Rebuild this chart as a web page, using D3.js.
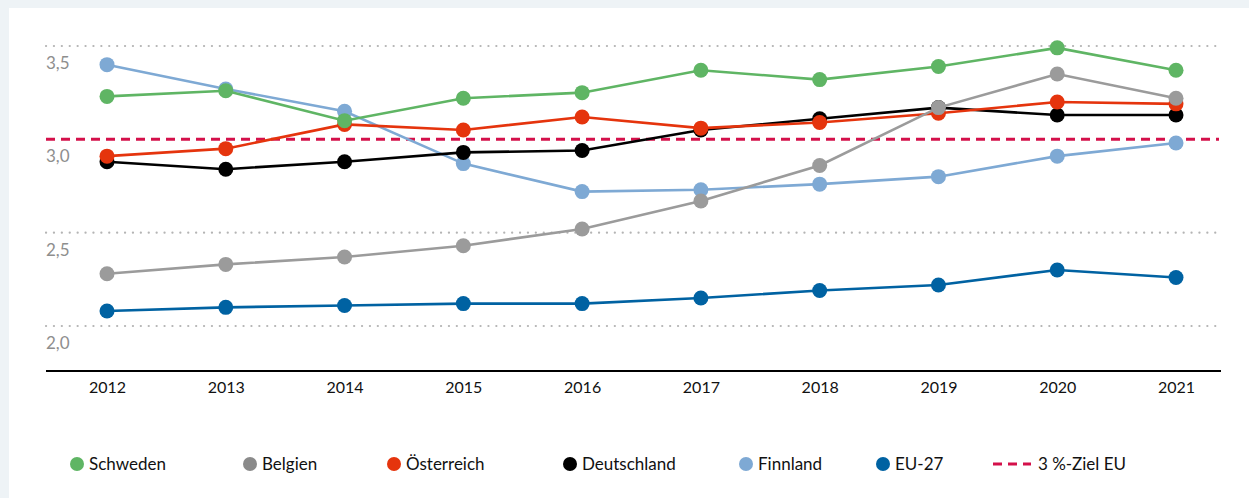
<!DOCTYPE html>
<html>
<head>
<meta charset="utf-8">
<script src="https://cdn.jsdelivr.net/npm/d3@7"></script>
<style>
  body { margin: 0; background: #eef3f6; }
  svg { display: block; }
  text { font-family: Lato, "Open Sans", sans-serif; }
</style>
</head>
<body>
<div id="chart"></div>
<script>
// years on the x axis
var years = [2012, 2013, 2014, 2015, 2016, 2017, 2018, 2019, 2020, 2021];

// R&D quota in % of GDP
var schweden    = [3.23, 3.26, 3.10, 3.22, 3.25, 3.37, 3.32, 3.39, 3.49, 3.37];
var belgien     = [2.28, 2.33, 2.37, 2.43, 2.52, 2.67, 2.86, 3.17, 3.35, 3.22];
var oesterreich = [2.91, 2.95, 3.08, 3.05, 3.12, 3.06, 3.09, 3.14, 3.20, 3.19];
var deutschland = [2.88, 2.84, 2.88, 2.93, 2.94, 3.05, 3.11, 3.17, 3.13, 3.13];
var finnland    = [3.40, 3.27, 3.15, 2.87, 2.72, 2.73, 2.76, 2.80, 2.91, 2.98];
var eu27        = [2.08, 2.10, 2.11, 2.12, 2.12, 2.15, 2.19, 2.22, 2.30, 2.26];

var zielEU = 3.0;
var yTicks = [2.0, 2.5, 3.0, 3.5];

var series = [
  {name: "Schweden",    values: schweden,    color: "#5fb564"},
  {name: "Belgien",     values: belgien,     color: "#9b9b9b", legendColor: "#8a8a8a"},
  {name: "Österreich",  values: oesterreich, color: "#e5340d"},
  {name: "Deutschland", values: deutschland, color: "#000000"},
  {name: "Finnland",    values: finnland,    color: "#7ea9d4"},
  {name: "EU-27",       values: eu27,        color: "#0062a2"}
];

var W = 1249, H = 498;

var svg = d3.select("#chart").append("svg")
  .attr("width", W)
  .attr("height", H);

// white panel
svg.append("rect")
  .attr("x", 9).attr("y", 8)
  .attr("width", W - 9).attr("height", H - 8)
  .attr("fill", "#ffffff");

var x = d3.scalePoint()
  .domain(years)
  .range([107, 1176]);

var y = d3.scaleLinear()
  .domain([2.0, 3.5])
  .range([326, 46]);

var left = 46, right = 1221;

// dotted grid lines (3.0 is covered by the goal line)
svg.append("g").selectAll("line")
  .data(yTicks.filter(function(d){ return d !== zielEU; }))
  .enter().append("line")
  .attr("x1", left).attr("x2", right)
  .attr("y1", function(d){ return y(d); })
  .attr("y2", function(d){ return y(d); })
  .attr("stroke", "#b4b4b4")
  .attr("stroke-width", 2.2)
  .attr("stroke-linecap", "round")
  .attr("stroke-dasharray", "0.1,7.8");

// y labels sit under their grid line
svg.append("g").selectAll("text")
  .data(yTicks)
  .enter().append("text")
  .attr("x", 46)
  .attr("y", function(d){ return y(d) + 23; })
  .attr("fill", "#8e8e8e")
  .style("font-size", "17px")
  .text(function(d){ return d3.format(".1f")(d).replace(".", ","); });

// 3 % goal line
svg.append("line")
  .attr("x1", left).attr("x2", 1219)
  .attr("y1", y(zielEU)).attr("y2", y(zielEU))
  .attr("stroke", "#d4104a")
  .attr("stroke-width", 3)
  .attr("stroke-dasharray", "9,6");

// x axis
var xAxis = svg.append("g")
  .attr("transform", "translate(0,371)")
  .call(d3.axisBottom(x).tickSize(0).tickPadding(11));
xAxis.select(".domain").remove();
xAxis.append("line")
  .attr("x1", left).attr("x2", right)
  .attr("stroke", "#000").attr("stroke-width", 2);
xAxis.selectAll(".tick text")
  .attr("fill", "#111")
  .style("font-size", "16px")
  .style("font-family", "Lato, 'Open Sans', sans-serif");

var line = d3.line()
  .x(function(d, i){ return x(years[i]); })
  .y(function(d){ return y(d); });

// draw in reverse legend order so Schweden ends on top
var wrap = svg.append("g").selectAll("g")
  .data(series.slice().reverse())
  .enter().append("g");

wrap.append("path")
  .attr("d", function(d){ return line(d.values); })
  .attr("fill", "none")
  .attr("stroke", function(d){ return d.color; })
  .attr("stroke-width", 2.6);

wrap.selectAll("circle")
  .data(function(d){ return d.values.map(function(v, i){ return {v: v, i: i, c: d.color}; }); })
  .enter().append("circle")
  .attr("cx", function(d){ return x(years[d.i]); })
  .attr("cy", function(d){ return y(d.v); })
  .attr("r", 7.5)
  .attr("fill", function(d){ return d.c; });

// legend
var legendX = [77, 250, 394, 570, 746, 883];
var legend = svg.append("g").selectAll("g")
  .data(series)
  .enter().append("g")
  .attr("transform", function(d, i){ return "translate(" + legendX[i] + ",464)"; });

legend.append("circle")
  .attr("r", 7)
  .attr("fill", function(d){ return d.legendColor || d.color; });

legend.append("text")
  .attr("x", 12)
  .attr("dy", "0.35em")
  .attr("fill", "#111")
  .style("font-size", "17px")
  .text(function(d){ return d.name; });

var goalLegend = svg.append("g").attr("transform", "translate(993,464)");
goalLegend.append("line")
  .attr("x1", 0).attr("x2", 38)
  .attr("stroke", "#d4104a")
  .attr("stroke-width", 3)
  .attr("stroke-dasharray", "9,6");
goalLegend.append("text")
  .attr("x", 45)
  .attr("dy", "0.35em")
  .attr("fill", "#111")
  .style("font-size", "17px")
  .text("3 %-Ziel EU");
</script>
</body>
</html>
